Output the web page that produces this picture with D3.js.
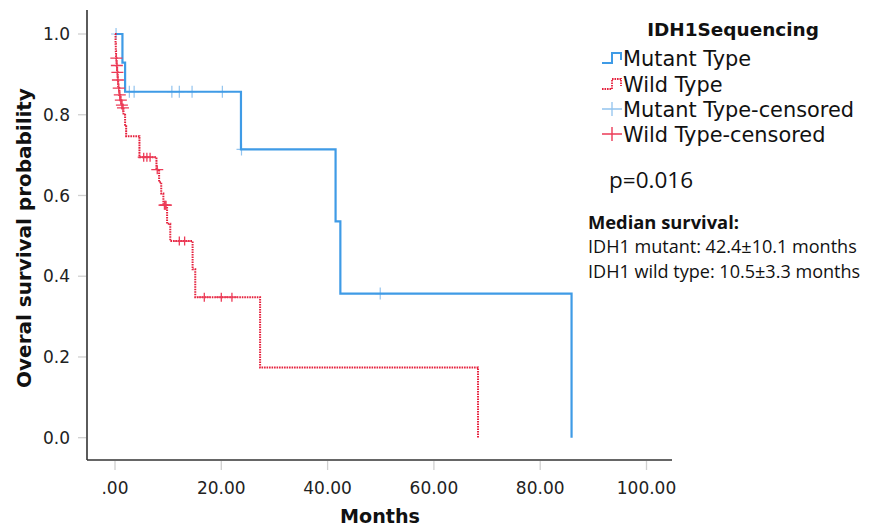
<!DOCTYPE html>
<html><head><meta charset="utf-8">
<script src="https://cdn.jsdelivr.net/npm/d3@7"></script>
<style>body{margin:0;background:#fff}</style>
</head><body>
<svg id="c" width="872" height="527"></svg>
<script>
// ---- data ----
const xTicks = [0, 20, 40, 60, 80, 100];
const xTickLabels = [".00", "20.00", "40.00", "60.00", "80.00", "100.00"];
const yTicks = [0, 0.2, 0.4, 0.6, 0.8, 1.0];
const yTickLabels = ["0.0", "0.2", "0.4", "0.6", "0.8", "1.0"];

const mutantTimes = [0, 1.4, 1.9, 23.7, 41.5, 42.4, 85.9];
const mutantSurv  = [1, 0.929, 0.857, 0.714, 0.536, 0.357, 0];
const mutantCensored = [0.2, 2.7, 3.6, 10.7, 12.1, 14.5, 20.2, 23.8, 49.9];

const wildTimes = [0, 0.1, 0.15, 0.2, 0.3, 0.4, 0.5, 0.6, 0.8, 1.0, 1.2, 1.4, 1.6, 1.9, 2.1, 4.6, 7.8, 8.3, 8.7, 9.1, 9.8, 10.4, 14.6, 15.1, 27.3, 68.3];
const wildSurv  = [1, 0.976, 0.957, 0.940, 0.922, 0.905, 0.886, 0.866, 0.849, 0.836, 0.824, 0.817, 0.800, 0.775, 0.747, 0.695, 0.664, 0.633, 0.605, 0.576, 0.530, 0.487, 0.417, 0.348, 0.174, 0];
const wildCensored = [0.25, 0.35, 0.45, 0.55, 0.7, 0.9, 1.1, 1.3, 1.5, 5.4, 6.0, 6.6, 7.95, 9.3, 9.45, 9.6, 12.1, 13.1, 16.8, 20.0, 22.0];

const legendTitle = "IDH1Sequencing";
const legendLabels = ["Mutant Type", "Wild Type", "Mutant Type-censored", "Wild Type-censored"];
const pText = "p=0.016";
const medianTitle = "Median survival:";
const medianLines = ["IDH1 mutant: 42.4\u00b110.1 months", "IDH1 wild type: 10.5\u00b13.3 months"];

// ---- drawing ----
const svg = d3.select("#c");
const BLUE = "#3f9be6", BLUE_C = "#93c4ee", RED = "#e5213d", RED_C = "#ec3b57";
const AX = "#333";
const x = d3.scaleLinear().domain([0, 100]).range([115, 646.5]);
const y = d3.scaleLinear().domain([0, 1]).range([437.7, 34]);
const axX = 87, axY = 460;

function fit(sel, w) {
  const n = sel.node();
  const fs = parseFloat(sel.attr("font-size"));
  const cur = n.getComputedTextLength();
  sel.attr("font-size", (fs * w / cur).toFixed(2));
  return fs * w / cur;
}

// axes lines
svg.append("line").attr("x1", axX).attr("x2", axX).attr("y1", 10).attr("y2", axY)
  .attr("stroke", AX).attr("stroke-width", 1.6);
svg.append("line").attr("x1", axX).attr("x2", 672).attr("y1", axY).attr("y2", axY)
  .attr("stroke", AX).attr("stroke-width", 1.6);

// y ticks
const yt = svg.append("g");
yTicks.forEach((v, i) => {
  yt.append("line").attr("x1", axX - 9).attr("x2", axX - 1).attr("y1", y(v)).attr("y2", y(v))
    .attr("stroke", "#d0d0d0").attr("stroke-width", 1.3);
  yt.append("text").attr("x", 70).attr("y", y(v)).attr("dy", "0.36em")
    .attr("text-anchor", "end").attr("font-family", "DejaVu Sans").attr("font-size", 17)
    .attr("fill", "#222").text(yTickLabels[i]);
});
// x ticks
const xt = svg.append("g");
xTicks.forEach((v, i) => {
  xt.append("line").attr("x1", x(v)).attr("x2", x(v)).attr("y1", axY + 1).attr("y2", axY + 10)
    .attr("stroke", "#d0d0d0").attr("stroke-width", 1.3);
  xt.append("text").attr("x", x(v)).attr("y", 488).attr("dy", "0.36em")
    .attr("text-anchor", "middle").attr("font-family", "DejaVu Sans").attr("font-size", 17)
    .attr("fill", "#222").text(xTickLabels[i]);
});

// axis titles
const yTitle = svg.append("text").attr("transform", "translate(24,238) rotate(-90)")
  .attr("dy", "0.36em").attr("text-anchor", "middle").attr("font-family", "DejaVu Sans")
  .attr("font-weight", "bold").attr("font-size", 19).attr("fill", "#111")
  .text("Overal survival probability");
fit(yTitle, 300);
const xTitle = svg.append("text").attr("x", 380).attr("y", 516).attr("dy", "0.36em")
  .attr("text-anchor", "middle").attr("font-family", "DejaVu Sans")
  .attr("font-weight", "bold").attr("font-size", 19).attr("fill", "#111").text("Months");
fit(xTitle, 80);

// curves
const line = d3.line().x(d => x(d[0])).y(d => y(d[1])).curve(d3.curveStepAfter);
const mutantPts = mutantTimes.map((t, i) => [t, mutantSurv[i]]);
const wildPts = wildTimes.map((t, i) => [t, wildSurv[i]]);

function survAt(times, surv, t) {
  let s = surv[0];
  for (let i = 0; i < times.length; i++) if (times[i] <= t) s = surv[i];
  return s;
}

const plot = svg.append("g");
mutantCensored.forEach(t => {
  const cx = x(t), cy = y(survAt(mutantTimes, mutantSurv, t));
  plot.append("path").attr("d", `M${cx - 5},${cy}H${cx + 5}M${cx},${cy - 6}V${cy + 6}`)
    .attr("stroke", BLUE_C).attr("stroke-width", 1.2).attr("fill", "none");
});
plot.append("path").datum(mutantPts).attr("d", line).attr("fill", "none")
  .attr("stroke", BLUE).attr("stroke-width", 2.2);

plot.append("path").datum(wildPts).attr("d", line).attr("fill", "none")
  .attr("stroke", RED).attr("stroke-width", 2).attr("stroke-dasharray", "1.6,0.9");
wildCensored.forEach(t => {
  const cx = x(t), cy = y(survAt(wildTimes, wildSurv, t));
  plot.append("path").attr("d", `M${cx - 6},${cy}H${cx + 6}M${cx},${cy - 4.5}V${cy + 4.5}`)
    .attr("stroke", RED_C).attr("stroke-width", 1.3).attr("fill", "none");
});

// legend
const lg = svg.append("g");
const lt = lg.append("text").attr("x", 733).attr("y", 29).attr("dy", "0.36em")
  .attr("text-anchor", "middle").attr("font-family", "DejaVu Sans").attr("font-weight", "bold")
  .attr("font-size", 17).attr("fill", "#111").text(legendTitle);
fit(lt, 172);
const rowY = [58, 84, 109, 134];
const items = legendLabels.map((lab, i) => lg.append("text").attr("x", 623).attr("y", rowY[i])
  .attr("dy", "0.36em").attr("font-family", "DejaVu Sans").attr("font-size", 18)
  .attr("fill", "#111").text(lab));
const itemFs = fit(items[2], 231);
items.forEach(s => s.attr("font-size", itemFs.toFixed(2)));
const ix = 602;
lg.append("path").attr("d", `M${ix},${rowY[0] + 5}H${ix + 10}V${rowY[0] - 5}H${ix + 19}V${rowY[0] + 2}`)
  .attr("fill", "none").attr("stroke", BLUE).attr("stroke-width", 2);
lg.append("path").attr("d", `M${ix},${rowY[1] + 5}H${ix + 10}V${rowY[1] - 5}H${ix + 19}V${rowY[1] + 2}`)
  .attr("fill", "none").attr("stroke", RED).attr("stroke-width", 1.8).attr("stroke-dasharray", "1.6,0.9");
lg.append("path").attr("d", `M${ix},${rowY[2]}H${ix + 20}M${ix + 10},${rowY[2] - 7}V${rowY[2] + 7}`)
  .attr("fill", "none").attr("stroke", BLUE_C).attr("stroke-width", 1.3);
lg.append("path").attr("d", `M${ix},${rowY[3]}H${ix + 20}M${ix + 10},${rowY[3] - 7}V${rowY[3] + 7}`)
  .attr("fill", "none").attr("stroke", RED_C).attr("stroke-width", 1.4);

// stats
const pt = svg.append("text").attr("x", 609).attr("y", 180).attr("dy", "0.36em")
  .attr("font-family", "Open Sans").attr("font-size", 20).attr("fill", "#111").text(pText);
fit(pt, 84);
const mt = svg.append("text").attr("x", 588).attr("y", 222).attr("dy", "0.36em")
  .attr("font-family", "Open Sans").attr("font-weight", "bold").attr("font-size", 16)
  .attr("fill", "#111").text(medianTitle);
fit(mt, 151);
const ml = medianLines.map((s, i) => svg.append("text").attr("x", 588).attr("y", 246 + i * 25)
  .attr("dy", "0.36em").attr("font-family", "Open Sans").attr("font-size", 16)
  .attr("fill", "#111").text(s));
const mfs = fit(ml[0], 269);
ml.forEach(s => s.attr("font-size", mfs.toFixed(2)));
</script>
</body></html>
